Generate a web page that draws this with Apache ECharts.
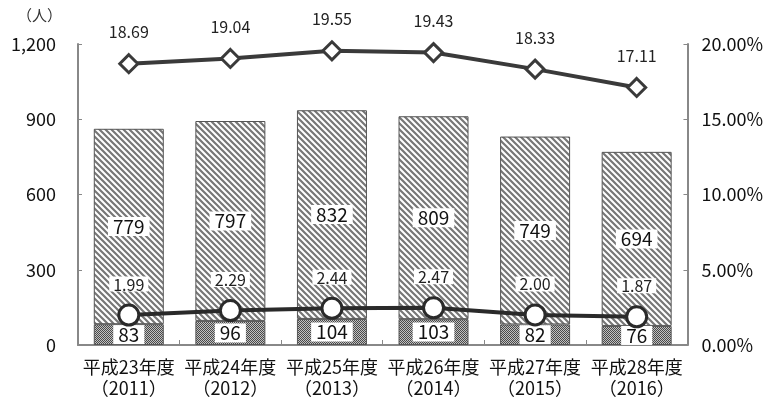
<!DOCTYPE html>
<html><head><meta charset="utf-8">
<script src="https://cdn.jsdelivr.net/npm/echarts@6/dist/echarts.min.js"></script>
<style>html,body{margin:0;padding:0;background:#fff}#c{width:766px;height:400px}</style>
</head><body><div id="c"></div>
<script>
const categories = ['平成23年度\n（2011）','平成24年度\n（2012）','平成25年度\n（2013）','平成26年度\n（2014）','平成27年度\n（2015）','平成28年度\n（2016）'];
const lowerBar = [83, 96, 104, 103, 82, 76];
const upperBar = [779, 797, 832, 809, 749, 694];
const upperRate = [18.69, 19.04, 19.55, 19.43, 18.33, 17.11];
const lowerRate = [1.99, 2.29, 2.44, 2.47, 2.00, 1.87];

function hatch(){
  const c = document.createElement('canvas'); c.width = 6; c.height = 6;
  const g = c.getContext('2d');
  g.fillStyle = '#fff'; g.fillRect(0,0,6,6);
  g.strokeStyle = '#777'; g.lineWidth = 2.2;
  g.beginPath();
  g.moveTo(-1,-1); g.lineTo(7,7);
  g.moveTo(-1,5); g.lineTo(1,7);
  g.moveTo(5,-1); g.lineTo(7,1);
  g.stroke();
  return c;
}
function checker(){
  const c = document.createElement('canvas'); c.width = 2; c.height = 2;
  const g = c.getContext('2d');
  g.fillStyle = '#c0c0c0'; g.fillRect(0,0,2,2);
  g.fillStyle = '#4a4a4a'; g.fillRect(0,0,1,1); g.fillRect(1,1,1,1);
  return c;
}
const font = '"Noto Sans CJK JP", sans-serif';
const barLabel = {show:true, position:'inside', fontSize:19, color:'#111', fontFamily:font, backgroundColor:'#fff', padding:[0,5,-2,5], lineHeight:21};
const chart = echarts.init(document.getElementById('c'));
chart.setOption({
  animation:false,
  textStyle:{fontFamily:font},
  grid:{left:78, right:73, top:44, bottom:55},
  graphic:[{type:'text', left:17, top:8, style:{text:'（人）', fontSize:15, fill:'#333', fontFamily:font}}],
  xAxis:{type:'category', data:categories,
    axisLine:{lineStyle:{color:'#888', width:2}},
    axisTick:{show:true, inside:true, length:5, lineStyle:{color:'#888'}},
    axisLabel:{fontSize:18, color:'#111', lineHeight:21, margin:12, interval:0}},
  yAxis:[
    {type:'value', min:0, max:1200, interval:300,
     axisLine:{show:true, lineStyle:{color:'#888', width:2}},
     axisTick:{show:true, inside:true, length:4, lineStyle:{color:'#888'}},
     splitLine:{show:false},
     axisLabel:{fontSize:18, color:'#111', margin:22, formatter:v=>v.toLocaleString('en-US')}},
    {type:'value', min:0, max:20, interval:5,
     axisLine:{show:true, lineStyle:{color:'#888', width:2}},
     axisTick:{show:true, inside:true, length:4, lineStyle:{color:'#888'}},
     splitLine:{show:false},
     axisLabel:{fontSize:18, color:'#111', margin:14, formatter:v=>v.toFixed(2)+'%'}}
  ],
  series:[
    {type:'bar', stack:'a', data:lowerBar, barWidth:70,
     itemStyle:{color:{image:checker(), repeat:'repeat'}, borderColor:'#555', borderWidth:1},
     label:barLabel},
    {type:'bar', stack:'a', data:upperBar, barWidth:70,
     itemStyle:{color:{image:hatch(), repeat:'repeat'}, borderColor:'#555', borderWidth:1},
     label:barLabel},
    {type:'line', yAxisIndex:1, data:upperRate, symbol:'diamond', symbolSize:18,
     lineStyle:{color:'#3a3a3a', width:4},
     itemStyle:{color:'#fff', borderColor:'#3a3a3a', borderWidth:3},
     label:{show:true, position:'top', distance:13, fontSize:16, color:'#222', formatter:p=>p.value.toFixed(2)}},
    {type:'line', yAxisIndex:1, data:lowerRate, symbol:'circle', symbolSize:20,
     lineStyle:{color:'#2a2a2a', width:4},
     itemStyle:{color:'#fff', borderColor:'#2a2a2a', borderWidth:3},
     label:{show:true, position:'top', distance:12, fontSize:16, color:'#222', backgroundColor:'#fff', padding:[0,4,-1,4], formatter:p=>p.value.toFixed(2)}}
  ]
});
</script></body></html>
